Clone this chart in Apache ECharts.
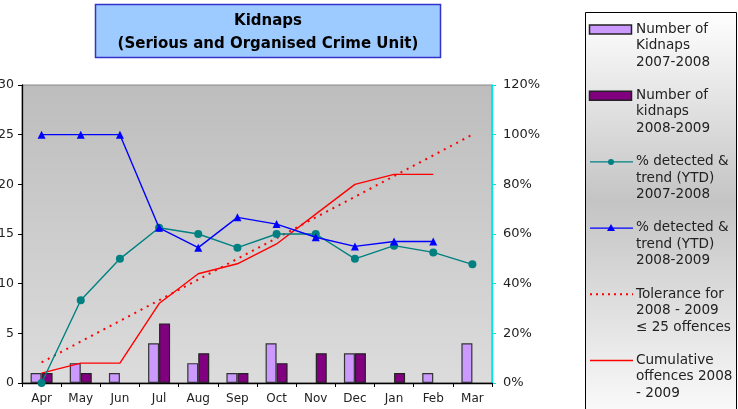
<!DOCTYPE html>
<html>
<head>
<meta charset="utf-8">
<script src="https://cdn.jsdelivr.net/npm/echarts@6/dist/echarts.min.js"></script>
<style>
  html, body { margin: 0; padding: 0; background: #fff; }
  #chart { width: 738px; height: 409px; }
</style>
</head>
<body>
<div id="chart"></div>
<script>
const months = ['Apr', 'May', 'Jun', 'Jul', 'Aug', 'Sep', 'Oct', 'Nov', 'Dec', 'Jan', 'Feb', 'Mar']
const kidnaps0708 = [1, 2, 1, 4, 2, 1, 4, 0, 3, 0, 1, 4]
const kidnaps0809 = [1, 1, 0, 6, 3, 1, 2, 3, 3, 1, 0, null]
const detected0708 = [0, 33.3, 50, 62.5, 60, 54.5, 60, 60, 50, 55.3, 52.6, 47.8]
const detected0809 = [100, 100, 100, 62.5, 54.5, 66.7, 64, 58.7, 55, 57, 57, null]
const tolerance = [2.08, 4.17, 6.25, 8.33, 10.42, 12.5, 14.58, 16.67, 18.75, 20.83, 22.92, 25]
const cumulative = [1, 2, 2, 8, 11, 12, 14, 17, 20, 21, 21, null]
const legendNames = [
    'Number of\nKidnaps\n2007-2008',
    'Number of\nkidnaps\n2008-2009',
    '% detected &\ntrend (YTD)\n2007-2008',
    '% detected &\ntrend (YTD)\n2008-2009',
    'Tolerance for\n2008 - 2009\n\u2264 25 offences',
    'Cumulative\noffences 2008\n- 2009'
]

const font = '"DejaVu Sans", Verdana, sans-serif'
const colors = {
    light: '#cc99ff',
    dark: '#800080',
    teal: '#008080',
    blue: '#0000ff',
    red: '#ff0000'
}

// zero months show no bar at all, as in the original
const hideZero = arr => arr.map(v => (v === 0 ? null : v))

// legend drawn by hand so the marker sits on the first text line
const buildLegend = () => {
    let items = [
        { kind: 'bar', color: colors.light },
        { kind: 'bar', color: colors.dark },
        { kind: 'line', color: colors.teal, marker: 'circle' },
        { kind: 'line', color: colors.blue, marker: 'triangle' },
        { kind: 'dotted', color: colors.red },
        { kind: 'line', color: colors.red }
    ]
    let els = [{
        type: 'rect',
        shape: { x: 585.5, y: 12.5, width: 151, height: 420 },
        style: {
            fill: new echarts.graphic.LinearGradient(0, 0, 0, 1, [
                { offset: 0, color: '#ffffff' },
                { offset: 0.45, color: '#c4c4c4' },
                { offset: 1, color: '#ffffff' }
            ]),
            stroke: '#000',
            lineWidth: 1
        },
        z: 1
    }]
    items.forEach((item, i) => {
        let y = 29.5 + i * 66.2
        if (item.kind === 'bar') {
            els.push({
                type: 'rect',
                shape: { x: 589.5, y: y - 4.5, width: 42, height: 9 },
                style: { fill: item.color, stroke: '#222', lineWidth: 1.5 },
                z: 2
            })
        } else {
            els.push({
                type: 'line',
                shape: { x1: 590, y1: y, x2: 633, y2: y },
                style: {
                    stroke: item.color,
                    lineWidth: item.kind === 'dotted' ? 2 : 1.3,
                    lineDash: item.kind === 'dotted' ? [2, 4] : null
                },
                z: 2
            })
            if (item.marker === 'circle') {
                els.push({
                    type: 'circle',
                    shape: { cx: 611, cy: y, r: 3 },
                    style: { fill: item.color },
                    z: 3
                })
            } else if (item.marker === 'triangle') {
                els.push({
                    type: 'polygon',
                    shape: { points: [[611, y - 4], [615, y + 3], [607, y + 3]] },
                    style: { fill: item.color },
                    z: 3
                })
            }
        }
        els.push({
            type: 'text',
            x: 636,
            y: y - 8.5,
            style: {
                text: legendNames[i],
                font: '13.6px ' + font,
                fill: '#222',
                lineHeight: 16.5
            },
            z: 3
        })
    })
    return els
}

const option = {
    animation: false,
    textStyle: { fontFamily: font },
    grid: {
        left: 22,
        right: 246,
        top: 85,
        bottom: 26,
        outerBoundsMode: 'none',
        show: true,
        borderColor: '#888',
        borderWidth: 1,
        backgroundColor: new echarts.graphic.LinearGradient(0, 0, 0, 1, [
            { offset: 0, color: '#bdbdbd' },
            { offset: 1, color: '#dcdcdc' }
        ])
    },
    graphic: [
        {
            type: 'rect',
            shape: { x: 95.5, y: 4.5, width: 345, height: 53 },
            style: { fill: '#9ecbff', stroke: '#3333cc', lineWidth: 1.5 },
            z: 5
        },
        {
            type: 'text',
            x: 268,
            y: 32.5,
            style: {
                text: 'Kidnaps\n(Serious and Organised Crime Unit)',
                font: 'bold 15px ' + font,
                fill: '#000',
                align: 'center',
                verticalAlign: 'middle',
                lineHeight: 23
            },
            z: 6
        }
    ].concat(buildLegend()),
    xAxis: {
        type: 'category',
        data: months,
        boundaryGap: true,
        axisLine: { lineStyle: { color: '#000', width: 1.3 } },
        axisTick: { show: true, length: 4, alignWithLabel: false, lineStyle: { color: '#000' } },
        axisLabel: { color: '#222', fontSize: 12, margin: 10 },
        splitLine: { show: false }
    },
    yAxis: [
        {
            type: 'value',
            min: 0,
            max: 30,
            interval: 5,
            axisLine: { show: true, lineStyle: { color: '#000', width: 1.3 } },
            axisTick: { show: true, length: 4, lineStyle: { color: '#000' } },
            axisLabel: { color: '#222', fontSize: 12.5, margin: 8 },
            splitLine: { show: false }
        },
        {
            type: 'value',
            min: 0,
            max: 120,
            interval: 20,
            position: 'right',
            axisLine: { show: true, lineStyle: { color: '#00e5e5', width: 1.3 } },
            axisTick: { show: true, length: 4, lineStyle: { color: '#00e5e5' } },
            axisLabel: { color: '#222', fontSize: 13, margin: 11, formatter: '{value}%' },
            splitLine: { show: false }
        }
    ],
    series: [
        {
            name: legendNames[0],
            type: 'bar',
            data: hideZero(kidnaps0708),
            barWidth: 11,
            barGap: '0%',
            itemStyle: { color: colors.light, borderColor: '#333', borderWidth: 1.2 }
        },
        {
            name: legendNames[1],
            type: 'bar',
            data: hideZero(kidnaps0809),
            barWidth: 11,
            barGap: '0%',
            itemStyle: { color: colors.dark, borderColor: '#222', borderWidth: 1.2 }
        },
        {
            name: legendNames[4],
            type: 'line',
            data: tolerance,
            symbol: 'none',
            lineStyle: { color: colors.red, width: 2, type: [2, 5] },
            z: 3
        },
        {
            name: legendNames[5],
            type: 'line',
            data: cumulative,
            symbol: 'none',
            lineStyle: { color: colors.red, width: 1.4 },
            z: 3
        },
        {
            name: legendNames[2],
            type: 'line',
            yAxisIndex: 1,
            data: detected0708,
            symbol: 'circle',
            symbolSize: 8,
            lineStyle: { color: colors.teal, width: 1.4 },
            itemStyle: { color: colors.teal },
            z: 4
        },
        {
            name: legendNames[3],
            type: 'line',
            yAxisIndex: 1,
            data: detected0809,
            symbol: 'triangle',
            symbolSize: 8,
            lineStyle: { color: colors.blue, width: 1.4 },
            itemStyle: { color: colors.blue },
            z: 5
        }
    ]
}

const chart = echarts.init(document.getElementById('chart'))
chart.setOption(option)
</script>
</body>
</html>
